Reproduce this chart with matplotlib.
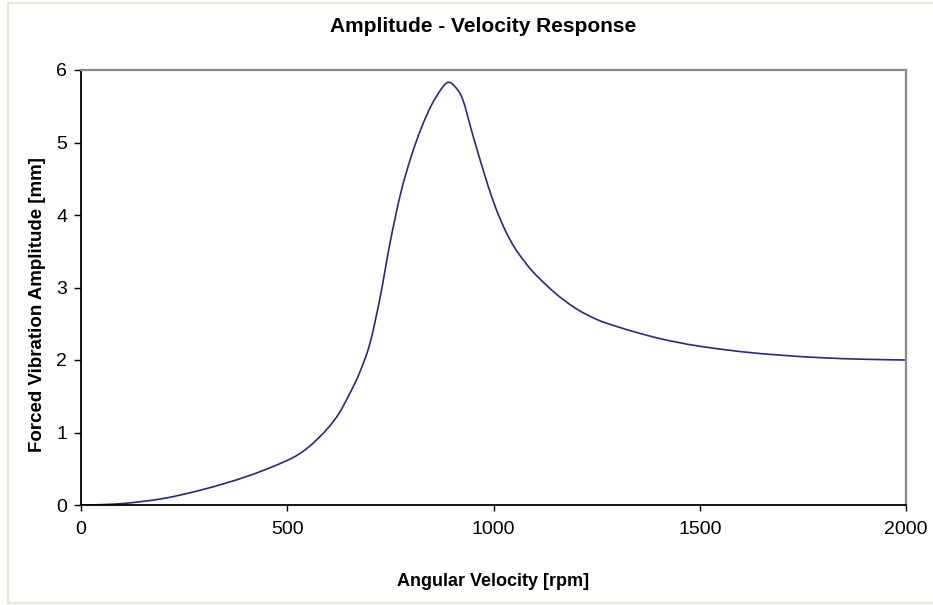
import numpy as np
import matplotlib
matplotlib.use('Agg')
import matplotlib.pyplot as plt
from matplotlib.patches import Rectangle, PathPatch
from matplotlib.path import Path

# forced vibration response of the rotor, amplitude against shaft speed
speed_rpm = [0, 50, 100, 150, 200, 250, 300, 350, 400, 450, 500, 525, 550, 575, 600,
             625, 650, 675, 700, 725, 750, 775, 800, 825, 850, 875, 890, 905, 925,
             950, 975, 1000, 1025, 1050, 1075, 1100, 1150, 1200, 1250, 1300, 1350,
             1400, 1450, 1500, 1600, 1700, 1800, 1900, 2000]
amplitude_mm = [0.0, 0.005, 0.02, 0.05, 0.09, 0.15, 0.22, 0.30, 0.39, 0.495, 0.615,
                0.69, 0.79, 0.92, 1.07, 1.26, 1.52, 1.82, 2.22, 2.86, 3.64, 4.30,
                4.80, 5.20, 5.52, 5.75, 5.83, 5.78, 5.60, 5.10, 4.62, 4.18, 3.83, 3.56,
                3.36, 3.19, 2.92, 2.71, 2.56, 2.46, 2.375, 2.30, 2.24, 2.19, 2.115,
                2.065, 2.03, 2.01, 2.00]

x_ticks = [0, 500, 1000, 1500, 2000]
y_ticks = [0, 1, 2, 3, 4, 5, 6]


def smooth_path(xs, ys):
    # spreadsheet-style smoothed line: Catmull-Rom segments as cubic Beziers
    p = np.column_stack([xs, ys]).astype(float)
    ext = np.vstack([p[0], p, p[-1]])
    verts = [p[0]]
    codes = [Path.MOVETO]
    for i in range(len(p) - 1):
        p0, p1, p2, p3 = ext[i], ext[i + 1], ext[i + 2], ext[i + 3]
        c1 = p1 + (p2 - p0) / 6.0
        c2 = p2 - (p3 - p1) / 6.0
        verts += [c1, c2, p2]
        codes += [Path.CURVE4] * 3
    return Path(verts, codes)


plt.rcParams['font.family'] = ['Liberation Sans', 'DejaVu Sans']

fig = plt.figure(figsize=(9.33, 6.05), dpi=100)
fig.patch.set_facecolor('white')
fig.patches.append(Rectangle((8 / 933, 2 / 605), 930 / 933, 600 / 605,
                             transform=fig.transFigure, fill=False,
                             edgecolor='#e6e1d3', linewidth=1.2))

ax = fig.add_axes([81 / 933, 100 / 605, 825 / 933, 435 / 605])
ax.add_patch(PathPatch(smooth_path(speed_rpm, amplitude_mm), facecolor='none',
                       edgecolor='#2a2a78', linewidth=1.2))

ax.set_xlim(0, 2000)
ax.set_ylim(0, 6)
ax.set_xticks(x_ticks)
ax.set_yticks(y_ticks)
ax.tick_params(axis='both', direction='out', width=1.0, colors='black', labelsize=14)
ax.tick_params(axis='x', length=4.3, pad=7)
ax.tick_params(axis='y', length=5, pad=5)

for side in ['left', 'bottom']:
    ax.spines[side].set_color('black')
    ax.spines[side].set_linewidth(1.3)
for side in ['top', 'right']:
    ax.spines[side].set_color('#8a8a8a')
    ax.spines[side].set_linewidth(1.6)

fig.text(483 / 933, 1 - 27 / 605, 'Amplitude - Velocity Response', ha='center',
         va='center', fontsize=15, fontweight='bold')
fig.text(493 / 933, 1 - 582 / 605, 'Angular Velocity [rpm]', ha='center',
         va='center', fontsize=13, fontweight='bold')
fig.text(38 / 933, 1 - 305 / 605, 'Forced Vibration Amplitude [mm]', ha='center',
         va='center', rotation=90, fontsize=13.5, fontweight='bold')

fig.savefig('out.png', dpi=100)
